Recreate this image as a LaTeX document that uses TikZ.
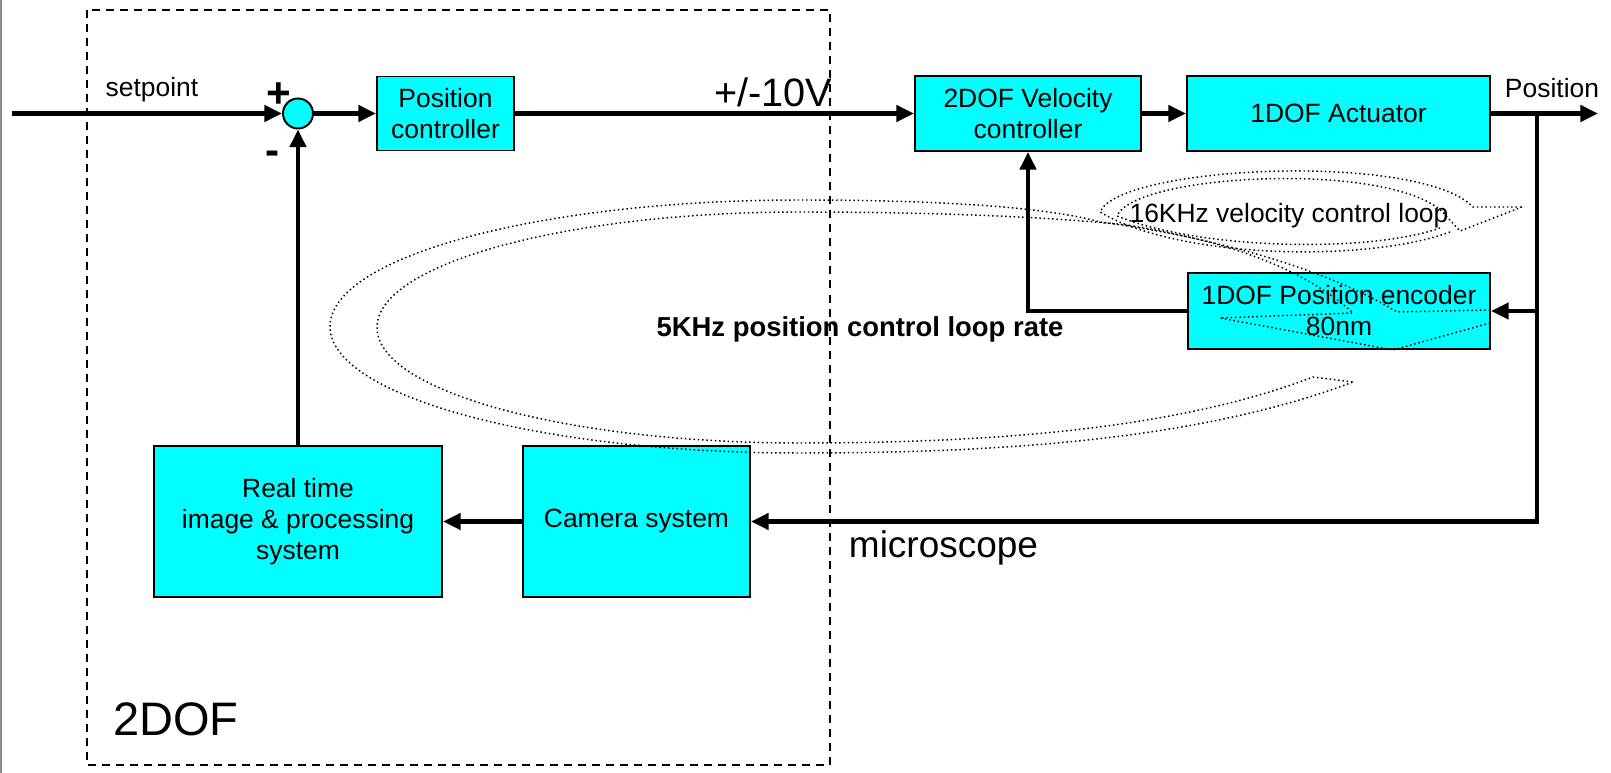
\documentclass[tikz,border=0pt]{standalone}
\usepackage{fontspec}
\setmainfont{Liberation Sans}
\usepackage{tikz}
\usetikzlibrary{arrows.meta,positioning}
\definecolor{loopCyan}{HTML}{00FFFF}
\definecolor{loopInk}{HTML}{000000}
\definecolor{edgeGrey}{HTML}{8C8C8C}
\newcommand{\blockfont}{\fontsize{18.8}{22}\selectfont}
\tikzset{
  block/.style={
    rectangle,
    draw=loopInk,
    fill=loopCyan,
    line width=1.4pt,
    inner sep=0pt,
    align=center,
    font=\blockfont
  },
  sumJunction/.style={
    circle,
    draw=loopInk,
    fill=loopCyan,
    line width=1.4pt,
    minimum size=7.5mm,
    inner sep=0pt
  },
  signalArrow/.style={
    -{Triangle[length=4.4mm,width=4mm]},
    line width=3.1pt,
    draw=loopInk
  },
  loopBand/.style={
    dotted,
    line width=1.05pt,
    draw=loopInk
  },
  groupFrame/.style={
    dash pattern=on 2mm off 1.5mm,
    line width=1.3pt,
    draw=loopInk
  },
  tag/.style={
    inner sep=0pt,
    anchor=base,
    font=\blockfont
  }
}

\begin{document}
\begin{tikzpicture}[x=0.025cm,y=-0.025cm]
  \useasboundingbox (0,0) rectangle (1611,773);
  \draw[edgeGrey,line width=0.45mm] (1,0) -- (1,773);
  \draw[groupFrame] (87,10) rectangle (830,765);

  \node[sumJunction] (sum) at (298,113.5) {};
  \node[block,minimum width=34.25mm,minimum height=18.5mm] (posCtrl) at (445.5,113.5) {Position\\controller};
  \node[block,minimum width=56.5mm,minimum height=18.75mm] (velCtrl) at (1028,113.5) {2DOF Velocity\\controller};
  \node[block,minimum width=75.75mm,minimum height=18.75mm] (actuator) at (1338.5,113.5) {1DOF Actuator};
  \node[block,minimum width=75.5mm,minimum height=19mm] (encoder) at (1339,311) {1DOF Position encoder\\80nm};
  \node[block,minimum width=56.75mm,minimum height=37.75mm] (camera) at (636.5,521.5) {Camera system};
  \node[block,minimum width=72mm,minimum height=37.75mm] (imaging) at (298,521.5) {Real time\\image \& processing\\system};

  \coordinate (setIn) at (12,113.5);
  \coordinate (posOut) at (1598,113.5);
  \coordinate (tapTop) at (1537,113.5);
  \coordinate (tapEnc) at (1537,311);
  \coordinate (tapLow) at (1537,521.5);

  \draw[signalArrow] (setIn) -- (sum);
  \draw[signalArrow] (sum) -- (posCtrl);
  \draw[signalArrow] (posCtrl) -- (velCtrl);
  \draw[signalArrow] (velCtrl) -- (actuator);
  \draw[signalArrow] (actuator) -- (posOut);
  \draw[signalArrow] (tapTop) -- (tapLow) -- (camera);
  \draw[signalArrow] (tapEnc) -- (encoder);
  \draw[signalArrow] (encoder.west) -| (velCtrl.south);
  \draw[signalArrow] (camera) -- (imaging);
  \draw[signalArrow] (imaging) -- (sum);

  \draw[loopBand] (1490,310) -- (1397,312) .. controls (1320,265) and (1200,235) .. (1100,222)
    .. controls (1050,208) and (950,200) .. (800,200)
    .. controls (540.4,200) and (330,256.6) .. (330,326.5)
    .. controls (330,396.4) and (540.4,453) .. (800,453)
    .. controls (1000,453) and (1200,440) .. (1353,382);
  \draw[loopBand] (1490,323) -- (1393,350) -- (1220,318) -- (1353,313)
    .. controls (1300,265) and (1220,240) .. (1127,225)
    .. controls (1060,218) and (950,212) .. (800,212)
    .. controls (566.4,212) and (377,263.7) .. (377,327.5)
    .. controls (377,391.3) and (566.4,443) .. (800,443)
    .. controls (1000,443) and (1180,428) .. (1313,377) -- (1353,382);
  \draw[loopBand] (1450,232) .. controls (1370,262) and (1180,260) .. (1100,212)
    .. controls (1120,165) and (1420,152) .. (1473,207) -- (1522,207);
  \draw[loopBand] (1440,228) .. controls (1370,253) and (1200,250) .. (1117,216)
    .. controls (1135,172) and (1405,160) .. (1447,217) -- (1460,231) -- (1522,207);

  \node[tag] (lblSetpoint) at (152,97) {setpoint};
  \node[tag,font=\fontsize{30}{32}\selectfont\bfseries] (lblPlus) at (279,108) {+};
  \node[tag,font=\fontsize{30}{32}\selectfont\bfseries] (lblMinus) at (273,165) {-};
  \node[tag,font=\fontsize{28.2}{30}\selectfont] (lblVolt) at (773,107) {+/-10V};
  \node[tag] (lblPosition) at (1552,98) {Position};
  \node[tag,font=\fontsize{26.3}{28}\selectfont] (lblMicro) at (943.5,557) {microscope};
  \node[tag,anchor=base west,font=\fontsize{33.4}{36}\selectfont] (lblGroup) at (113,735) {2DOF};
  \node[tag,font=\fontsize{19.5}{22}\selectfont\bfseries] (lblOuter) at (860,337) {5KHz position control loop rate};
  \node[tag] (lblInner) at (1289,223) {16KHz velocity control loop};
\end{tikzpicture}
\end{document}
